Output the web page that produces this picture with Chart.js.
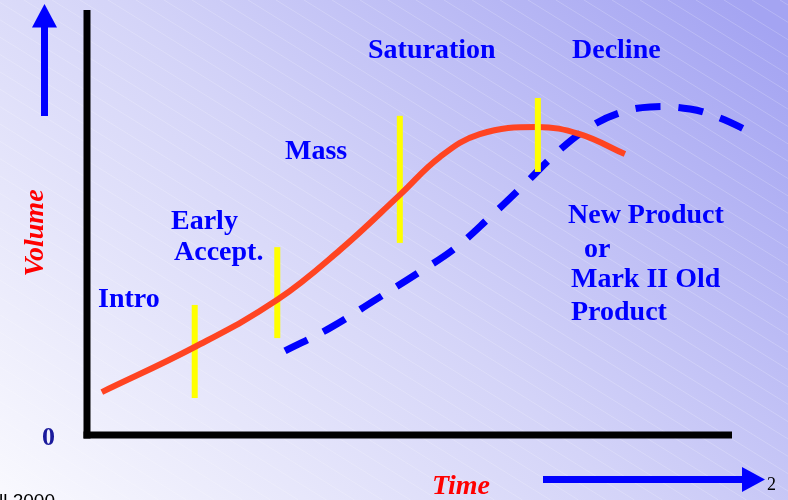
<!DOCTYPE html>
<html>
<head>
<meta charset="utf-8">
<script src="https://cdn.jsdelivr.net/npm/chart.js@4/dist/chart.umd.min.js"></script>
<style>
  html, body { margin: 0; padding: 0; background: #fff; }
  #wrap { width: 788px; height: 500px; }
</style>
</head>
<body>
<div id="wrap"><canvas id="c" width="788" height="500"></canvas></div>
<script>
// Product life cycle: original product (solid) and its successor (dashed)
const lifeTime   = [2.3, 16.7, 29.5, 39.2, 48.5, 54.7, 60.9, 69.8, 76.4, 83.4];
const lifeVolume = [10.1, 20.7, 31.8, 43.5, 56.5, 65.4, 70.8, 72.5, 70.8, 66.1];

const nextTime   = [30.7, 37.7, 44.7, 51.6, 57.1, 62.5, 67.9, 73.3, 78.0, 82.6, 87.3, 93.5, 98.1, 103.1];
const nextVolume = [19.8, 25.2, 31.8, 38.4, 44.0, 51.3, 59.1, 67.1, 72.5, 75.8, 77.2, 76.7, 74.6, 71.1];

// Phase boundaries: time position and the low/high end of each marker
const boundaryTime = [16.7, 29.5, 48.5, 69.9];
const boundaryLow  = [8.7, 22.8, 45.2, 61.9];
const boundaryHigh = [30.6, 44.2, 75.1, 79.3];

const SERIF = '"Liberation Serif", "Times New Roman", serif';

const toPts = (xs, ys) => xs.map((x, i) => ({ x: x, y: ys[i] }));

function boundary(i) {
  return {
    data: [{ x: boundaryTime[i], y: boundaryLow[i] }, { x: boundaryTime[i], y: boundaryHigh[i] }],
    borderColor: '#ffff00', borderWidth: 6, pointRadius: 0, tension: 0, clip: false
  };
}

// Gradient backdrop with faint diagonal hairlines
const backdrop = {
  id: 'backdrop',
  beforeDraw(chart) {
    const ctx = chart.ctx, W = chart.width, H = chart.height;
    ctx.save();
    const g = ctx.createLinearGradient(0, H, W * 0.78, -H * 0.25);
    g.addColorStop(0, '#f9f9fe');
    g.addColorStop(0.5, '#d4d4f8');
    g.addColorStop(1, '#a4a4f2');
    ctx.fillStyle = g;
    ctx.fillRect(0, 0, W, H);
    ctx.strokeStyle = 'rgba(255,255,255,0.2)';
    ctx.lineWidth = 1;
    for (let s = -900; s < W + 200; s += 28) {
      ctx.beginPath();
      ctx.moveTo(s, 0);
      ctx.lineTo(s + H / 0.62, H);
      ctx.stroke();
    }
    ctx.restore();
  },
  beforeDatasetsDraw(chart) {
    // Axes
    const ctx = chart.ctx, a = chart.chartArea;
    ctx.save();
    ctx.fillStyle = '#000';
    ctx.fillRect(a.left - 3.5, a.top, 7, a.bottom - a.top + 3.5);
    ctx.fillRect(a.left - 3.5, a.bottom - 3.5, a.right - a.left + 3.5, 7);
    ctx.restore();
  },
  afterDraw(chart) {
    const ctx = chart.ctx;
    ctx.save();
    // Phase and product labels
    ctx.fillStyle = '#0000ff';
    ctx.font = 'bold 28px ' + SERIF;
    ctx.textBaseline = 'alphabetic';
    const labels = [
      ['Saturation', 368, 58], ['Decline', 572, 58], ['Mass', 285, 159],
      ['Early', 171, 229], ['Accept.', 174, 260], ['Intro', 98, 307],
      ['New Product', 568, 223], ['or', 584, 257], ['Mark II Old', 571, 287], ['Product', 571, 320]
    ];
    labels.forEach(([t, x, y]) => ctx.fillText(t, x, y));

    // Origin
    ctx.fillStyle = '#1a1a9c';
    ctx.font = 'bold 26px ' + SERIF;
    ctx.fillText('0', 42, 445);

    // Axis titles
    ctx.fillStyle = '#ff0000';
    ctx.font = 'bold italic 28px ' + SERIF;
    ctx.fillText('Time', 432, 494);
    ctx.save();
    ctx.translate(43, 233);
    ctx.rotate(-Math.PI / 2);
    ctx.textAlign = 'center';
    ctx.fillText('Volume', 0, 0);
    ctx.restore();

    // Arrows
    ctx.fillStyle = '#0000ff';
    ctx.fillRect(41, 26, 7, 90);
    ctx.beginPath();
    ctx.moveTo(44.5, 4); ctx.lineTo(57, 27.5); ctx.lineTo(32, 27.5); ctx.closePath();
    ctx.fill();
    ctx.fillRect(543, 476, 200, 7);
    ctx.beginPath();
    ctx.moveTo(765, 479.5); ctx.lineTo(742, 467); ctx.lineTo(742, 492); ctx.closePath();
    ctx.fill();

    // Footer
    ctx.fillStyle = '#000';
    ctx.font = '18px ' + SERIF;
    ctx.fillText('2', 767, 490);
    ctx.font = '19px "Liberation Sans", Arial, sans-serif';
    ctx.fillText('ll 2000', -1, 507);
    ctx.restore();
  }
};

new Chart(document.getElementById('c'), {
  type: 'line',
  data: {
    datasets: [
      boundary(3),
      {
        data: toPts(lifeTime, lifeVolume),
        borderColor: '#ff4422', borderWidth: 6, pointRadius: 0,
        tension: 0.4, clip: false
      },
      {
        data: toPts(nextTime, nextVolume),
        borderColor: '#0000ff', borderWidth: 7, pointRadius: 0,
        borderDash: [25, 18], tension: 0.4, clip: false
      },
      boundary(0), boundary(1), boundary(2)
    ]
  },
  options: {
    responsive: false,
    animation: false,
    events: [],
    layout: { padding: { left: 87, right: 56, top: 10, bottom: 65 } },
    plugins: { legend: { display: false }, tooltip: { enabled: false } },
    scales: {
      x: { type: 'linear', min: 0, max: 100, display: false },
      y: { type: 'linear', min: 0, max: 100, display: false }
    }
  },
  plugins: [backdrop]
});
</script>
</body>
</html>
